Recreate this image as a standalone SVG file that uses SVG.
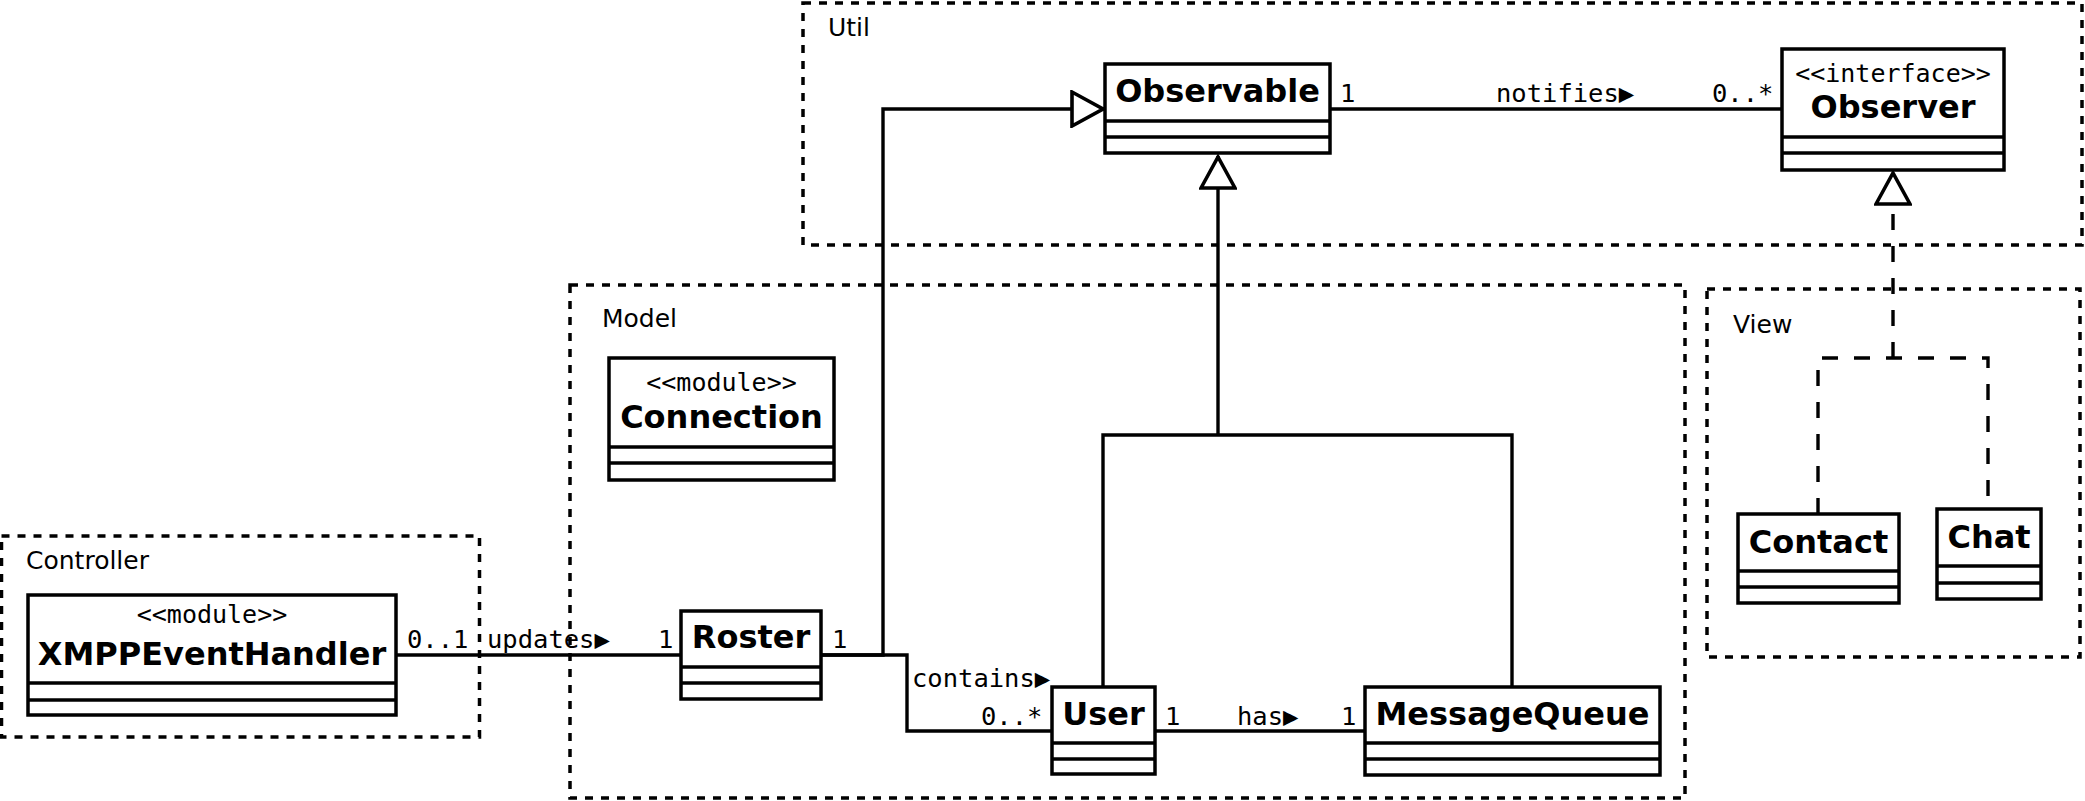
<svg xmlns="http://www.w3.org/2000/svg" width="2085" height="801" viewBox="0 0 2085 801">
<style>
.pkg{fill:none;stroke:#000;stroke-width:3.5;stroke-dasharray:8,8}
.box{fill:#fff;stroke:#000;stroke-width:3.5}
.div{stroke:#000;stroke-width:3.5}
.ln{fill:none;stroke:#000;stroke-width:3.4}
.dash{stroke-dasharray:16,16}
.name{font-family:"DejaVu Sans",sans-serif;font-weight:bold;font-size:32px;text-anchor:middle;fill:#000}
.stereo{font-family:"DejaVu Sans Mono",monospace;font-size:25px;text-anchor:middle;fill:#000}
.lbl{font-family:"DejaVu Sans Mono",monospace;font-size:25.5px;fill:#000}
.pname{font-family:"DejaVu Sans",sans-serif;font-size:25px;fill:#000}
</style>
<defs>
<marker id="gen" markerUnits="userSpaceOnUse" viewBox="0 0 36 38" refX="34" refY="19" markerWidth="36" markerHeight="38" orient="auto">
<path d="M2,2 L33,19 L2,36 Z" fill="#fff" stroke="#000" stroke-width="3.6" stroke-dasharray="none"/>
</marker>
</defs>
<rect width="2085" height="801" fill="#fff"/>
<g id="packages">
<g id="pkg-util"><rect class="pkg" x="803" y="3" width="1279" height="242"/><text class="pname" x="828" y="36">Util</text></g>
<g id="pkg-model"><rect class="pkg" x="570" y="285" width="1115" height="513"/><text class="pname" x="602" y="327">Model</text></g>
<g id="pkg-view"><rect class="pkg" x="1707" y="289" width="373" height="368"/><text class="pname" x="1733" y="333">View</text></g>
<g id="pkg-controller"><rect class="pkg" x="1.5" y="536" width="478" height="201"/><text class="pname" x="26" y="569">Controller</text></g>
</g>
<g id="connectors">
<path class="ln" d="M821,655 H883 V109 H1104" marker-end="url(#gen)"/>
<path class="ln" d="M821,655 H907 V731 H1052"/>
<path class="ln" d="M396,655 H681"/>
<path class="ln" d="M1103,687 V435 H1512 V687"/>
<path class="ln" d="M1218,435 V156" marker-end="url(#gen)"/>
<path class="ln" d="M1330,109 H1782"/>
<path class="ln" d="M1155,731 H1365"/>
<path class="ln dash" d="M1818,514 V358 H1988 V509"/>
<path class="ln dash" d="M1893,358 V172" marker-end="url(#gen)"/>
<text class="lbl" x="1340" y="102">1</text>
<text class="lbl" x="1496" y="102">notifies▶</text>
<text class="lbl" x="1712" y="102">0..*</text>
<text class="lbl" x="407" y="648">0..1</text>
<text class="lbl" x="487" y="648">updates▶</text>
<text class="lbl" x="658" y="648">1</text>
<text class="lbl" x="832" y="648">1</text>
<text class="lbl" x="912" y="687">contains▶</text>
<text class="lbl" x="981" y="725">0..*</text>
<text class="lbl" x="1165" y="725">1</text>
<text class="lbl" x="1237" y="725">has▶</text>
<text class="lbl" x="1341" y="725">1</text>
</g>
<g id="Observable"><rect class="box" x="1105" y="64" width="225" height="89"/><line class="div" x1="1105" y1="121" x2="1330" y2="121"/><line class="div" x1="1105" y1="137" x2="1330" y2="137"/><text class="name" x="1217.5" y="102">Observable</text></g>
<g id="Observer"><rect class="box" x="1782" y="49" width="222" height="121"/><line class="div" x1="1782" y1="137" x2="2004" y2="137"/><line class="div" x1="1782" y1="153" x2="2004" y2="153"/><text class="stereo" x="1893" y="82">&lt;&lt;interface&gt;&gt;</text><text class="name" x="1893" y="118">Observer</text></g>
<g id="Connection"><rect class="box" x="609" y="358" width="225" height="122"/><line class="div" x1="609" y1="447" x2="834" y2="447"/><line class="div" x1="609" y1="463" x2="834" y2="463"/><text class="stereo" x="721.5" y="391">&lt;&lt;module&gt;&gt;</text><text class="name" x="721.5" y="428">Connection</text></g>
<g id="XMPPEventHandler"><rect class="box" x="28" y="595" width="368" height="120"/><line class="div" x1="28" y1="683" x2="396" y2="683"/><line class="div" x1="28" y1="700" x2="396" y2="700"/><text class="stereo" x="212" y="623">&lt;&lt;module&gt;&gt;</text><text class="name" x="212" y="665">XMPPEventHandler</text></g>
<g id="Roster"><rect class="box" x="681" y="611" width="140" height="88"/><line class="div" x1="681" y1="667" x2="821" y2="667"/><line class="div" x1="681" y1="683" x2="821" y2="683"/><text class="name" x="751" y="648">Roster</text></g>
<g id="User"><rect class="box" x="1052" y="687" width="103" height="87"/><line class="div" x1="1052" y1="743" x2="1155" y2="743"/><line class="div" x1="1052" y1="759" x2="1155" y2="759"/><text class="name" x="1103.5" y="725">User</text></g>
<g id="MessageQueue"><rect class="box" x="1365" y="687" width="295" height="88"/><line class="div" x1="1365" y1="743" x2="1660" y2="743"/><line class="div" x1="1365" y1="759" x2="1660" y2="759"/><text class="name" x="1512.5" y="725">MessageQueue</text></g>
<g id="Contact"><rect class="box" x="1738" y="514" width="161" height="89"/><line class="div" x1="1738" y1="571" x2="1899" y2="571"/><line class="div" x1="1738" y1="587" x2="1899" y2="587"/><text class="name" x="1818.5" y="553">Contact</text></g>
<g id="Chat"><rect class="box" x="1937" y="509" width="104" height="90"/><line class="div" x1="1937" y1="566" x2="2041" y2="566"/><line class="div" x1="1937" y1="583" x2="2041" y2="583"/><text class="name" x="1989" y="548">Chat</text></g>
</svg>
